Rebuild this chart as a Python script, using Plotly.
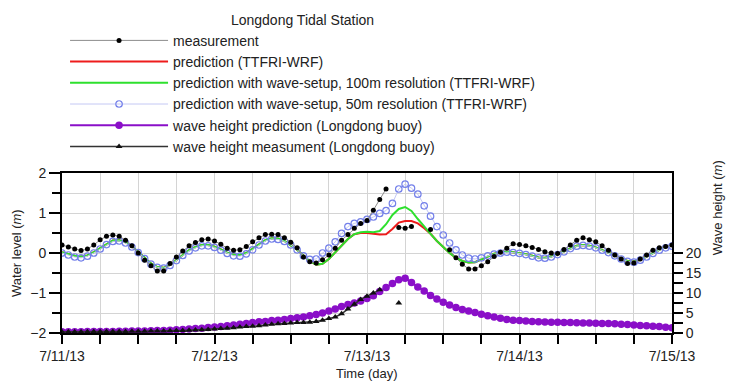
import plotly.graph_objects as go
import pandas as pd

# hourly time stamps 7/11/13 00:00 .. 7/15/13 00:00
hours = pd.date_range("2013-07-11 00:00", periods=97, freq="h")

measurement = [
    0.20, 0.15, 0.10, 0.06, 0.10, 0.20, 0.33, 0.42, 0.45, 0.42,
    0.32, 0.18, 0.00, -0.18, -0.32, -0.45, -0.45, -0.26, -0.10, 0.05,
    0.18, 0.26, 0.33, 0.35, 0.30, 0.22, 0.12, 0.07, 0.08, 0.16,
    0.28, 0.38, 0.46, 0.47, 0.46, 0.38, 0.27, 0.13, -0.10, -0.22,
    -0.25, -0.17, -0.05, 0.12, 0.32, 0.46, 0.62, 0.74, 0.81, 1.07,
    1.34, 1.60, None, 0.64, 0.62, 0.66, None, None, 0.59, None,
    None, 0.08, -0.12, -0.28, -0.40, -0.40, -0.32, -0.22, -0.09, 0.02,
    0.12, 0.23, 0.21, 0.18, 0.14, 0.09, 0.03, 0.00, -0.01, 0.09,
    0.20, 0.32, 0.38, 0.33, 0.28, 0.18, 0.07, -0.05, -0.15, -0.26,
    -0.25, -0.15, -0.05, 0.07, 0.13, 0.16, 0.20,
]

prediction = [
    0.02, -0.03, -0.07, -0.09, -0.06, 0.02, 0.12, 0.23, 0.31, 0.32,
    0.27, 0.17, 0.03, -0.12, -0.26, -0.35, -0.37, -0.30, -0.18, -0.05,
    0.07, 0.15, 0.20, 0.20, 0.16, 0.09, 0.01, -0.04, -0.05, 0.00,
    0.10, 0.22, 0.32, 0.37, 0.36, 0.30, 0.20, 0.08, -0.06, -0.20,
    -0.29, -0.27, -0.15, 0.02, 0.20, 0.35, 0.47, 0.50, 0.50, 0.48,
    0.46, 0.47, 0.60, 0.76, 0.80, 0.80, 0.74, 0.62, 0.48, 0.30,
    0.15, 0.00, -0.12, -0.20, -0.24, -0.23, -0.16, -0.08, -0.02, 0.01,
    0.03, 0.02, 0.00, -0.03, -0.07, -0.11, -0.12, -0.09, -0.03, 0.04,
    0.12, 0.18, 0.20, 0.18, 0.14, 0.08, 0.02, -0.06, -0.14, -0.20,
    -0.22, -0.17, -0.09, 0.00, 0.08, 0.14, 0.18,
]

setup_100m = [
    0.02, -0.03, -0.07, -0.09, -0.06, 0.02, 0.12, 0.23, 0.31, 0.32,
    0.27, 0.17, 0.03, -0.12, -0.26, -0.35, -0.37, -0.30, -0.18, -0.05,
    0.07, 0.15, 0.20, 0.20, 0.16, 0.09, 0.01, -0.04, -0.05, 0.00,
    0.10, 0.22, 0.32, 0.37, 0.36, 0.30, 0.20, 0.08, -0.06, -0.20,
    -0.29, -0.27, -0.15, 0.02, 0.20, 0.35, 0.47, 0.52, 0.53, 0.52,
    0.55, 0.72, 0.95, 1.10, 1.15, 1.05, 0.85, 0.65, 0.48, 0.30,
    0.15, 0.00, -0.12, -0.20, -0.24, -0.23, -0.16, -0.08, -0.02, 0.01,
    0.03, 0.02, 0.00, -0.03, -0.07, -0.11, -0.12, -0.09, -0.03, 0.04,
    0.12, 0.18, 0.20, 0.18, 0.14, 0.08, 0.02, -0.06, -0.14, -0.20,
    -0.22, -0.17, -0.09, 0.00, 0.08, 0.14, 0.18,
]

setup_50m = [
    0.00, -0.05, -0.10, -0.12, -0.08, 0.00, 0.10, 0.21, 0.29, 0.30,
    0.25, 0.15, 0.01, -0.14, -0.28, -0.36, -0.38, -0.31, -0.19, -0.06,
    0.05, 0.13, 0.18, 0.18, 0.14, 0.07, -0.01, -0.07, -0.08, -0.02,
    0.08, 0.20, 0.30, 0.35, 0.34, 0.29, 0.20, 0.08, -0.07, -0.16,
    -0.15, 0.00, 0.12, 0.28, 0.49, 0.66, 0.74, 0.78, 0.84, 0.90,
    0.99, 1.06, 1.24, 1.60, 1.72, 1.62, 1.47, 1.18, 0.92, 0.66,
    0.45, 0.25, 0.08, -0.05, -0.13, -0.15, -0.12, -0.07, -0.03, 0.00,
    0.02, 0.01, -0.01, -0.04, -0.08, -0.12, -0.13, -0.10, -0.04, 0.03,
    0.11, 0.17, 0.19, 0.17, 0.13, 0.07, 0.01, -0.07, -0.15, -0.21,
    -0.23, -0.18, -0.10, -0.01, 0.07, 0.13, 0.17,
]

wave_pred = [
    0.30, 0.30, 0.30, 0.30, 0.35, 0.35, 0.40, 0.40, 0.40, 0.45,
    0.45, 0.50, 0.50, 0.50, 0.55, 0.60, 0.65, 0.70, 0.80, 0.90,
    1.00, 1.10, 1.20, 1.35, 1.50, 1.65, 1.80, 2.00, 2.20, 2.40,
    2.60, 2.80, 2.90, 3.10, 3.20, 3.40, 3.60, 3.80, 4.00, 4.30,
    4.60, 5.00, 5.50, 6.00, 6.60, 7.10, 7.50, 8.00, 8.60, 9.30,
    10.4, 11.4, 12.4, 13.3, 13.7, 12.6, 11.5, 10.5, 9.40, 8.50,
    7.70, 7.00, 6.40, 5.90, 5.50, 5.10, 4.70, 4.30, 4.00, 3.70,
    3.40, 3.20, 3.10, 3.00, 2.90, 2.80, 2.75, 2.70, 2.70, 2.65,
    2.60, 2.55, 2.50, 2.50, 2.45, 2.40, 2.35, 2.30, 2.20, 2.10,
    2.00, 1.90, 1.80, 1.70, 1.60, 1.45, 1.30,
]

wave_meas = [
    0.30, 0.30, 0.30, 0.30, 0.30, 0.35, 0.35, 0.40, 0.40, 0.40,
    0.40, 0.45, 0.45, 0.45, 0.50, 0.50, 0.50, 0.55, 0.60, 0.65,
    0.70, 0.75, 0.80, 0.90, 1.00, 1.10, 1.20, 1.30, 1.50, 1.60,
    1.70, 1.80, 2.00, 2.20, 2.30, 2.40, 2.50, 2.60, 2.60, 2.70,
    2.90, 3.20, 3.60, 4.00, 4.80, 6.00, 7.20, 8.40, 9.20, 10.0,
    10.8, None, None, 7.50,
]

x_range = ["2013-07-11 00:00", "2013-07-15 00:00"]
FONT = "Liberation Sans, Arial, sans-serif"
GRID = "#d4d4d4"

fig = go.Figure()

fig.add_trace(go.Scatter(
    x=hours, y=wave_pred, name="wave height prediction (Longdong buoy)",
    mode="lines+markers", yaxis="y2", legendrank=5,
    line=dict(color="#8a0fc8", width=2),
    marker=dict(color="#8a0fc8", size=7.5, symbol="circle")))
fig.add_trace(go.Scatter(
    x=hours[:len(wave_meas)], y=wave_meas, name="wave height measument (Longdong buoy)",
    mode="lines+markers", yaxis="y2", legendrank=6,
    line=dict(color="#333333", width=1.5),
    marker=dict(color="#111111", size=6, symbol="triangle-up")))
fig.add_trace(go.Scatter(
    x=hours, y=prediction, name="prediction (TTFRI-WRF)",
    mode="lines", legendrank=2,
    line=dict(color="#ee1c1c", width=2)))
fig.add_trace(go.Scatter(
    x=hours, y=setup_100m, name="prediction with wave-setup, 100m resolution (TTFRI-WRF)",
    mode="lines", legendrank=3,
    line=dict(color="#2ee02e", width=2)))
fig.add_trace(go.Scatter(
    x=hours, y=setup_50m, name="prediction with wave-setup, 50m resolution (TTFRI-WRF)",
    mode="lines+markers", legendrank=4,
    line=dict(color="#c4c8f4", width=1),
    marker=dict(color="#7480ea", size=6.5, symbol="circle-open",
                line=dict(color="#7480ea", width=1.2))))
fig.add_trace(go.Scatter(
    x=hours, y=measurement, name="measurement",
    mode="lines+markers", legendrank=1,
    line=dict(color="#8c8c8c", width=1),
    marker=dict(color="#000000", size=5)))

TITLE_FONT = dict(size=13, color="#222")

fig.update_layout(
    width=729, height=381,
    margin=dict(l=62, r=57, t=173, b=48, autoexpand=False),
    paper_bgcolor="white", plot_bgcolor="white",
    font=dict(family=FONT, size=13, color="#222"),
    showlegend=True,
    legend=dict(
        x=0.005, xanchor="left", y=2.04, yanchor="top",
        bgcolor="rgba(0,0,0,0)",
        font=dict(size=14, color="#222"),
        title=dict(text="Longdong Tidal Station", side="top center",
                   font=dict(size=14, color="#222")),
        itemwidth=98, tracegroupgap=0,
    ),
    xaxis=dict(
        type="date", range=x_range,
        dtick=86400000, tickformat="%-m/%d/%y",
        ticks="outside", ticklen=9, tickwidth=1.5, tickcolor="black",
        showgrid=True, gridcolor=GRID, gridwidth=1,
        minor=dict(dtick=6 * 3600000, ticks="outside", ticklen=9, tickwidth=1.5,
                   tickcolor="black", showgrid=True, gridcolor=GRID),
        showline=True, linecolor="black", linewidth=2, mirror=True,
        zeroline=False,
        tickfont=dict(size=14, color="#222"),
    ),
    xaxis2=dict(
        type="date", range=x_range, overlaying="x", side="top", anchor="y",
        dtick=6 * 3600000, ticks="inside", ticklen=7, tickwidth=1.5, tickcolor="black",
        showticklabels=False, showgrid=False, showline=False, zeroline=False,
    ),
    yaxis=dict(
        range=[-2, 2], dtick=1,
        ticks="outside", ticklen=11, tickwidth=1.5, tickcolor="black",
        showgrid=True, gridcolor=GRID,
        minor=dict(dtick=0.5, ticks="outside", ticklen=8, tickwidth=1.5,
                   tickcolor="black", showgrid=True, gridcolor=GRID),
        showline=True, linecolor="black", linewidth=2, mirror=True,
        zeroline=False,
        tickfont=dict(size=14, color="#222"),
    ),
    yaxis2=dict(
        range=[0, 40], overlaying="y", side="right", anchor="x",
        tickvals=[0, 5, 10, 15, 20],
        ticks="outside", ticklen=10, tickwidth=1.5, tickcolor="black",
        minor=dict(tickvals=[2.5, 7.5, 12.5, 17.5], ticks="outside", ticklen=10,
                   tickwidth=1.5, tickcolor="black", showgrid=False),
        showgrid=False, showline=False, zeroline=False,
        tickfont=dict(size=14, color="#222"),
    ),
    annotations=[
        dict(text="Wave height (<i>m</i>)", textangle=-90, showarrow=False,
             xref="paper", yref="paper", x=1.0, xshift=45, y=0.78,
             xanchor="center", yanchor="middle", font=TITLE_FONT),
        dict(text="Water level (<i>m</i>)", textangle=-90, showarrow=False,
             xref="paper", yref="paper", x=0.0, xshift=-46, y=0.5,
             xanchor="center", yanchor="middle", font=TITLE_FONT),
        dict(text="Time (day)", showarrow=False,
             xref="paper", yref="paper", x=0.5, y=0.0, yshift=-40,
             xanchor="center", yanchor="middle", font=TITLE_FONT),
    ],
)

fig.write_html(
    "out.html",
    config=dict(displayModeBar=False),
    post_script="document.body.style.margin='0';document.body.style.overflow='hidden';",
)
